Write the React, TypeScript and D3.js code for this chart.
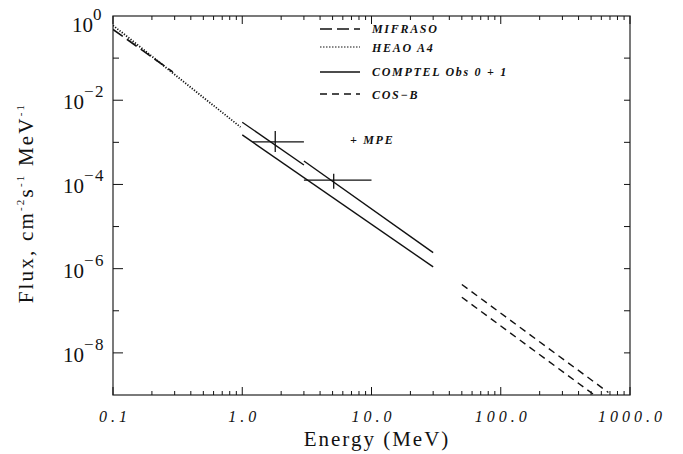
import * as d3 from 'd3'

// power-law segments, [energy MeV, flux]
const mifrasoE = [0.1, 0.29]
const mifrasoF = [0.48, 0.047]
const heaoE = [0.1, 0.97]
const heaoF = [0.6, 2.3e-3]
const comptelUpperAE = [1, 3]
const comptelUpperAF = [3.0e-3, 2.9e-4]
const comptelUpperBE = [3, 30]
const comptelUpperBF = [3.6e-4, 2.4e-6]
const comptelLowerE = [1, 30]
const comptelLowerF = [1.5e-3, 1.1e-6]
const cosbUpperE = [50, 680]
const cosbUpperF = [4.2e-7, 1.15e-9]
const cosbLowerE = [50, 530]
const cosbLowerF = [2.1e-7, 1.0e-9]

// MPE points with error bars
const mpeE = [1.8, 5.1]
const mpeF = [1.03e-3, 1.26e-4]
const mpeELo = [1.2, 3.0]
const mpeEHi = [3.0, 10]
const mpeFLo = [5.9e-4, 7.9e-5]
const mpeFHi = [1.85e-3, 1.8e-4]

const xTickLabels = ['0.1', '1.0', '10.0', '100.0', '1000.0']
const xTickValues = [0.1, 1, 10, 100, 1000]
const yExponents = [0, -2, -4, -6, -8]

const legendNames = ['MIFRASO', 'HEAO A4', 'COMPTEL Obs 0 + 1', 'COS\u2212B']

export default function App() {
  const width = 683
  const height = 454
  const left = 113, right = 630, top = 16, bottom = 395

  const x = d3.scaleLog().domain([0.1, 1000]).range([left, right])
  const y = d3.scaleLog().domain([1e-9, 1]).range([bottom, top])

  const line = d3.line<[number, number]>()
    .x(d => x(d[0]))
    .y(d => y(d[1]))
  const seg = (es: number[], fs: number[]) => line(es.map((e, i) => [e, fs[i]]) as [number, number][]) || ''

  // minor ticks
  const minorX: number[] = []
  for (let p = -1; p < 3; p++) {
    for (let k = 2; k <= 9; k++) minorX.push(k * Math.pow(10, p))
  }
  const decadesY = d3.range(-8, 0).map(p => Math.pow(10, p))

  const serif = { fontFamily: "'Liberation Serif', 'DejaVu Serif', serif" }
  const ink = '#111'

  const legendY = [29, 47, 72, 94]
  const legendTextY = [33, 52, 76, 99]
  const legendDash = ['12,5', '1.5,1.5', null, '7,5']

  return (
    <svg width={width} height={height} style={{ position: 'absolute', left: 0, top: 0, background: '#fff' }}>
      <defs>
        <clipPath id="plot">
          <rect x={left} y={top} width={right - left} height={bottom - top} />
        </clipPath>
      </defs>

      {/* frame */}
      <rect x={left} y={top} width={right - left} height={bottom - top} fill="none" stroke="#333" strokeWidth={1.3} />

      {/* x ticks */}
      {xTickValues.map(v => (
        <g key={'xt' + v}>
          <line x1={x(v)} x2={x(v)} y1={bottom} y2={bottom - 8} stroke={ink} strokeWidth={1} />
          <line x1={x(v)} x2={x(v)} y1={top} y2={top + 8} stroke={ink} strokeWidth={1} />
        </g>
      ))}
      {minorX.map(v => (
        <g key={'xm' + v}>
          <line x1={x(v)} x2={x(v)} y1={bottom} y2={bottom - 4} stroke={ink} strokeWidth={1} />
          <line x1={x(v)} x2={x(v)} y1={top} y2={top + 4} stroke={ink} strokeWidth={1} />
        </g>
      ))}

      {/* y ticks */}
      {decadesY.map((v, i) => {
        const major = Math.round(Math.log10(v)) % 2 === 0
        return (
          <g key={'yt' + i}>
            <line x1={left} x2={left + (major ? 10 : 6)} y1={y(v)} y2={y(v)} stroke={ink} strokeWidth={1} />
            <line x1={right} x2={right - 6} y1={y(v)} y2={y(v)} stroke={ink} strokeWidth={1} />
          </g>
        )
      })}

      {/* x tick labels */}
      {xTickValues.map((v, i) => (
        <text key={'xl' + v} x={x(v) + 2} y={422} textAnchor="middle" style={serif}
          fontStyle="italic" fontSize={16} letterSpacing={4} fill={ink}>{xTickLabels[i]}</text>
      ))}

      {/* y tick labels; the top one is pushed down to stay inside */}
      {yExponents.map(p => {
        const base = p === 0 ? y(1) + 16 : y(Math.pow(10, p)) + 9
        return (
          <text key={'yl' + p} x={p === 0 ? 103 : 105} y={base} textAnchor="end" style={serif} fill={ink}>
            <tspan fontSize={21}>10</tspan>
            <tspan fontSize={17} dy={-12} letterSpacing={1.5}>{p === 0 ? '0' : '\u2212' + Math.abs(p)}</tspan>
          </text>
        )
      })}

      {/* axis titles */}
      <text x={377} y={446} textAnchor="middle" style={serif} fontSize={21} letterSpacing={2} fill={ink}>Energy (MeV)</text>
      <text transform="translate(33,203) rotate(-90)" textAnchor="middle" style={serif} fontSize={21} letterSpacing={2.2} fill={ink}>
        <tspan>Flux, cm</tspan>
        <tspan fontSize={11} dy={-9}>-2</tspan>
        <tspan dy={9}>s</tspan>
        <tspan fontSize={11} dy={-9}>-1</tspan>
        <tspan dy={9}> MeV</tspan>
        <tspan fontSize={11} dy={-9}>-1</tspan>
      </text>

      {/* data */}
      <g clipPath="url(#plot)" fill="none" stroke={ink}>
        <path d={seg(heaoE, heaoF)} strokeWidth={1.8} strokeDasharray="1.2,1.6" />
        <path d={seg(mifrasoE, mifrasoF)} strokeWidth={1.6} strokeDasharray="12,5" />
        <path d={seg(comptelUpperAE, comptelUpperAF)} strokeWidth={1.4} />
        <path d={seg(comptelUpperBE, comptelUpperBF)} strokeWidth={1.4} />
        <path d={seg(comptelLowerE, comptelLowerF)} strokeWidth={1.4} />
        <path d={seg(cosbUpperE, cosbUpperF)} strokeWidth={1.4} strokeDasharray="7,5" />
        <path d={seg(cosbLowerE, cosbLowerF)} strokeWidth={1.4} strokeDasharray="7,5" />
        {mpeE.map((e, i) => (
          <g key={'mpe' + i} strokeWidth={1.3}>
            <line x1={x(mpeELo[i])} x2={x(mpeEHi[i])} y1={y(mpeF[i])} y2={y(mpeF[i])} />
            <line x1={x(e)} x2={x(e)} y1={y(mpeFLo[i])} y2={y(mpeFHi[i])} />
          </g>
        ))}
      </g>

      {/* legend */}
      {legendNames.map((name, i) => (
        <g key={name}>
          <line x1={320} x2={360} y1={legendY[i]} y2={legendY[i]} stroke={ink}
            strokeWidth={i === 1 ? 1 : 1.4} strokeDasharray={legendDash[i] || undefined} />
          <text x={372} y={legendTextY[i]} style={serif} fontStyle="italic" fontWeight="bold"
            fontSize={12} letterSpacing={1.7} fill={ink}>{name}</text>
        </g>
      ))}
      <text x={350} y={144} style={serif} fontStyle="italic" fontWeight="bold" fontSize={12} letterSpacing={1.7} fill={ink}>+ MPE</text>
    </svg>
  )
}
